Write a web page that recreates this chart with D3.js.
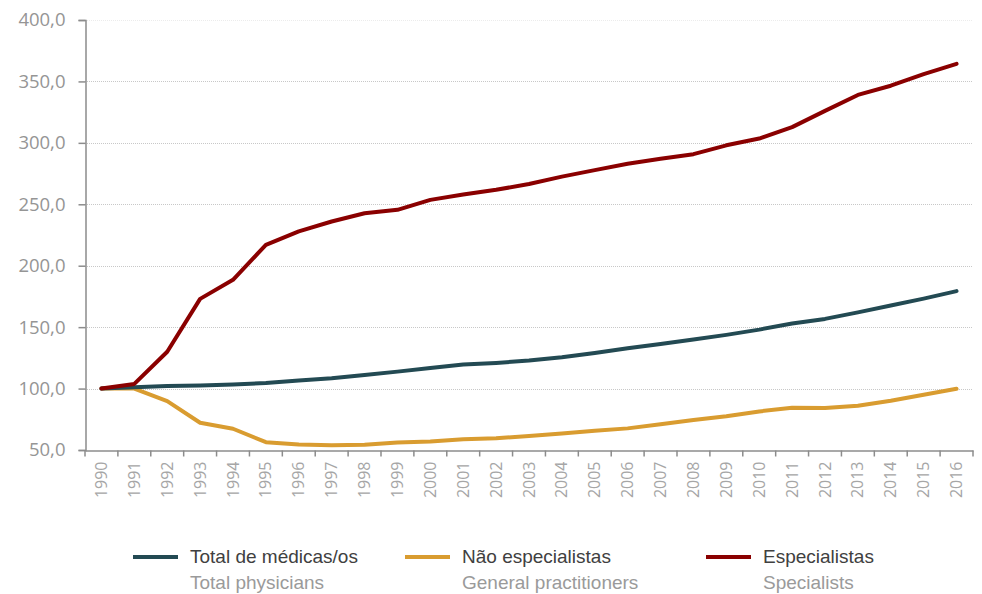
<!DOCTYPE html>
<html><head><meta charset="utf-8">
<script src="https://cdnjs.cloudflare.com/ajax/libs/d3/7.8.5/d3.min.js"></script>
<style>
body{margin:0;background:#fff;}
svg{display:block;}
</style></head>
<body><svg id="c" width="982" height="594"></svg>
<script>
const years = [1990,1991,1992,1993,1994,1995,1996,1997,1998,1999,2000,2001,2002,2003,2004,2005,2006,2007,2008,2009,2010,2011,2012,2013,2014,2015,2016];
const totalPhysicians = [100,101,102,102.4,103.3,104.6,106.5,108.4,111,113.8,116.8,119.5,120.9,122.8,125.5,129,132.8,136.3,139.9,143.7,148,153,156.7,162,167.6,173.2,179.3];
const generalPractitioners = [100,100,89.8,72.2,67.3,56.4,54.5,53.8,54.2,56.1,56.9,58.8,59.6,61.3,63.5,65.7,67.6,70.9,74.4,77.4,81.4,84.4,84.1,86,90.1,95,99.8];
const specialists = [100,103.8,130,173,188.5,217,228,236,242.7,245.5,253.6,258,261.8,266.5,272.5,277.8,283,287,290.8,298,303.5,312.8,326,339,346.5,356,364.3];
const yTicks = [50,100,150,200,250,300,350,400];
const seriesNames = ["Total de médicas/os","Não especialistas","Especialistas"];
const seriesNamesEn = ["Total physicians","General practitioners","Specialists"];
const colors = ["#234a53","#d99c30","#8a0000"];

const svg = d3.select("#c");
const mLeft = 85, mRight = 973, mTop = 20, mBottom = 450;
const x = d3.scaleBand().domain(years).range([mLeft, mRight]);
const y = d3.scaleLinear().domain([50,400]).range([mBottom, mTop]);

// gridlines
svg.append("g").selectAll("line").data(yTicks.filter(d=>d>50)).join("line")
  .attr("x1", mLeft).attr("x2", mRight)
  .attr("y1", d=>Math.round(y(d))+0.5).attr("y2", d=>Math.round(y(d))+0.5)
  .attr("stroke", d => d === 400 ? "#ececec" : "#c8c8c8").attr("stroke-width", 1).attr("stroke-dasharray","1,1");

// y axis
const yAxis = svg.append("g").attr("transform", `translate(${mLeft+0.5},0)`)
  .call(d3.axisLeft(y).tickValues(yTicks).tickSize(7).tickPadding(13)
    .tickFormat(d => d3.format(".1f")(d).replace(".", ",")));
yAxis.select(".domain").attr("stroke", "#8c8c8c").attr("stroke-width", 1.5);
yAxis.selectAll(".tick line").attr("stroke", "#8c8c8c").attr("stroke-width", 1.5);
yAxis.selectAll("text").attr("fill", "#959595").style("font-family", "'Open Sans', sans-serif").style("font-size", "18.5px");

// x axis
const xAxis = svg.append("g").attr("transform", `translate(0,${mBottom+0.5})`)
  .call(d3.axisBottom(x).tickSize(0).tickPadding(0));
xAxis.select(".domain").attr("stroke", "#8c8c8c").attr("stroke-width", 1.5);
xAxis.selectAll(".tick line").remove();
const bounds = years.map(d => x(d)).concat([mRight]);
xAxis.selectAll("line.bt").data(bounds).join("line").attr("class","bt")
  .attr("x1", d=>d).attr("x2", d=>d).attr("y1", 0).attr("y2", 6)
  .attr("stroke", "#8c8c8c").attr("stroke-width", 1.5);
xAxis.selectAll(".tick text")
  .attr("transform", "rotate(-90)")
  .attr("x", -11).attr("y", 0).attr("dy", "0.35em")
  .attr("text-anchor", "end")
  .attr("fill", "#a6a6a6")
  .style("font-family", "'Open Sans', sans-serif").style("font-size", "16px");

// lines
const allSeries = [totalPhysicians, generalPractitioners, specialists];
const line = d3.line().x((d,i)=>x(years[i]) + x.bandwidth()/2).y(d=>y(d));
[1,0,2].forEach(k => {
  svg.append("path").datum(allSeries[k]).attr("d", line)
    .attr("fill","none").attr("stroke", colors[k]).attr("stroke-width", 4)
    .attr("stroke-linejoin","round").attr("stroke-linecap","round");
});

// legend
const legX = [133, 405, 706];
const leg = svg.append("g");
seriesNames.forEach((n,i) => {
  const g = leg.append("g").attr("transform", `translate(${legX[i]},0)`);
  g.append("line").attr("x1",0).attr("x2",45).attr("y1",557).attr("y2",557)
    .attr("stroke", colors[i]).attr("stroke-width", 4);
  g.append("text").attr("x", 57).attr("y", 563).text(n)
    .attr("fill", "#404040").style("font-family","'Liberation Sans Narrow', 'Arial Narrow', sans-serif").style("font-size","19px");
  g.append("text").attr("x", 57).attr("y", 589).text(seriesNamesEn[i])
    .attr("fill", "#9a9a9a").style("font-family","'Liberation Sans Narrow', 'Arial Narrow', sans-serif").style("font-size","19px");
});
</script></body></html>
